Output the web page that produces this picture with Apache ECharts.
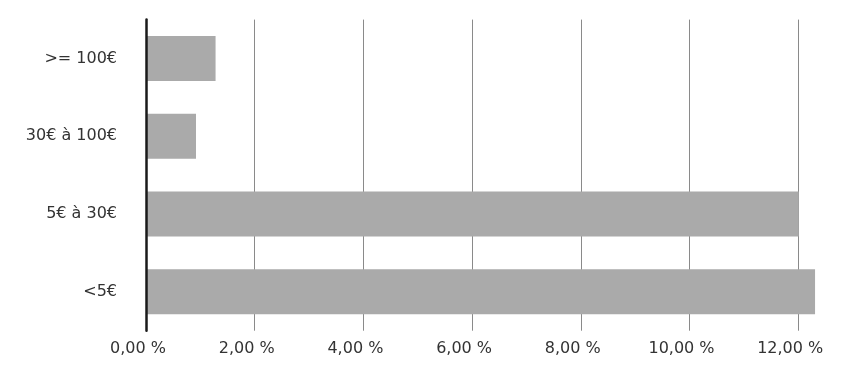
<!DOCTYPE html>
<html><head><meta charset="utf-8">
<script src="https://cdn.jsdelivr.net/npm/echarts@6/dist/echarts.min.js"></script>
<style>html,body{margin:0;padding:0;background:#fff}#c{width:856px;height:386px}</style>
</head><body><div id="c"></div>
<script>
const categories = ['<5€', '5€ à 30€', '30€ à 100€', '>= 100€'];
const values = [12.31, 12.01, 0.92, 1.28];
const axisMax = 12.4;
const tickInterval = 2;

const chart = echarts.init(document.getElementById('c'), null, {renderer: 'canvas'});
chart.setOption({
  animation: false,
  grid: {left: 146, right: 856 - 146 - 6.2 * 108.7, top: 19.6, bottom: 55.3, containLabel: false},
  xAxis: {
    type: 'value', min: 0, max: axisMax, interval: tickInterval,
    axisLine: {show: false}, axisTick: {show: false},
    splitLine: {show: true, showMinLine: false, showMaxLine: false, lineStyle: {color: '#8a8a8a', width: 1}},
    axisLabel: {
      color: '#333', fontFamily: 'DejaVu Sans', fontSize: 16, margin: 10,
      padding: [0, 16, 0, 0],
      showMaxLabel: false,
      formatter: v => (v % 2 === 0 ? v.toFixed(2).replace('.', ',') + ' %' : '')
    }
  },
  yAxis: {
    type: 'category', data: categories, z: 5,
    axisLine: {show: true, lineStyle: {color: '#1a1a1a', width: 2.5}},
    axisTick: {show: false},
    axisLabel: {color: '#333', fontFamily: 'DejaVu Sans', fontSize: 16, margin: 29}
  },
  series: [{
    type: 'bar', data: values, barWidth: '58%', z: 2,
    itemStyle: {color: '#aaaaaa'}
  }]
});
</script></body></html>
